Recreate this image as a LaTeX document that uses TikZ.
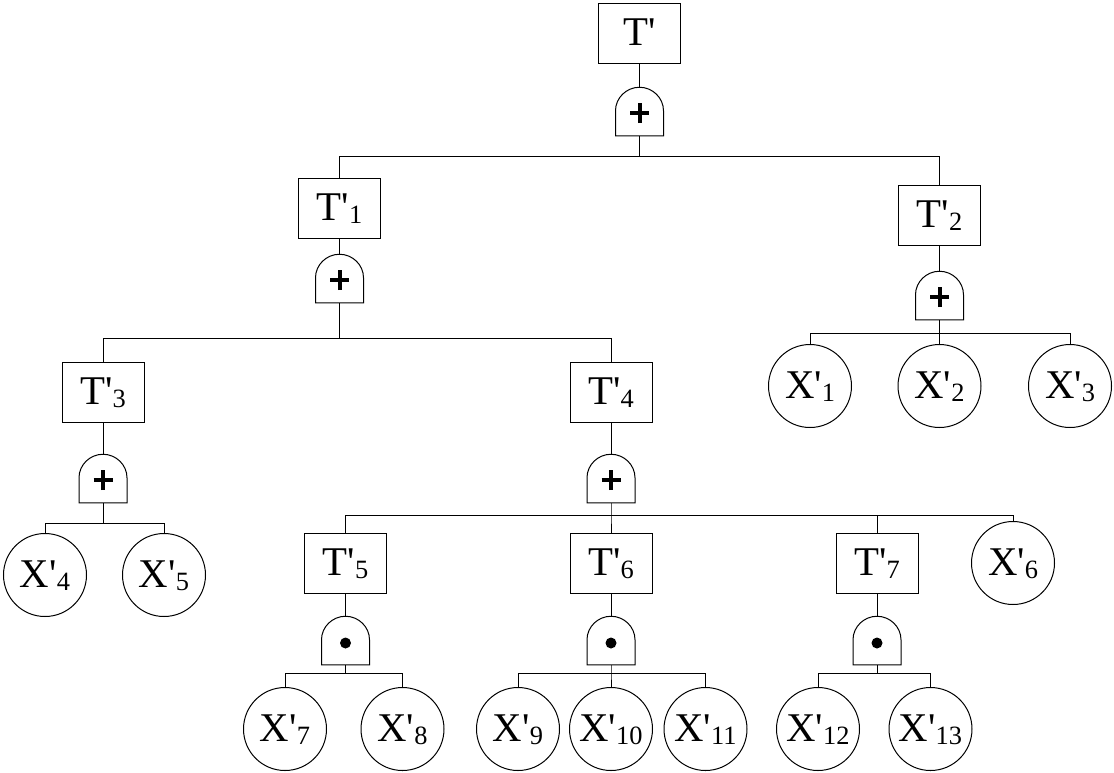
\documentclass[tikz,border=0pt]{standalone}
\usepackage{fontspec}
\setmainfont{Liberation Serif}[Ligatures=TeXOff]
\newcommand\idx[1]{\raisebox{-1.5pt}{\fontsize{13.2}{14}\selectfont #1}}
\tikzset{
  event/.style={draw, minimum width=41pt, minimum height=30pt, inner sep=0pt,
    text height=13.5pt, text depth=1.5pt, font=\fontsize{20.4}{24}\selectfont},
  basic/.style={draw, circle, minimum size=41.5pt, inner sep=0pt,
    text height=13.5pt, text depth=1.5pt, font=\fontsize{20.4}{24}\selectfont},
  gate/.style={minimum width=23.5pt, minimum height=23.75pt, inner sep=0pt},
}
\begin{document}
\begin{tikzpicture}[x=0.5pt, y=-0.5pt, line width=.5pt]
\useasboundingbox (0,0) rectangle (1114,772);
% events
\node[event] (t) at (639.5,33) {T'};
\node[event] (t1) at (339.5,208) {T'\idx{1}};
\node[event] (t2) at (939.5,215) {T'\idx{2}};
\node[event] (t3) at (103,392) {T'\idx{3}};
\node[event] (t4) at (611,392) {T'\idx{4}};
\node[event] (t5) at (345.5,563.5) {T'\idx{5}};
\node[event] (t6) at (611,563.5) {T'\idx{6}};
\node[event] (t7) at (877,563.5) {T'\idx{7}};
% gates
\node[gate] (g0) at (639.5,111.5) {};
\node[gate] (g1) at (339.5,278.5) {};
\node[gate] (g2) at (939.5,295.5) {};
\node[gate] (g3) at (103,478.5) {};
\node[gate] (g4) at (611,478.5) {};
\node[gate] (g5) at (345.5,640.5) {};
\node[gate] (g6) at (611,640.5) {};
\node[gate] (g7) at (877,640.5) {};
% basic events
\node[basic] (x1) at (810,386) {X'\idx{1}};
\node[basic] (x2) at (939.5,386) {X'\idx{2}};
\node[basic] (x3) at (1070,386) {X'\idx{3}};
\node[basic] (x4) at (45,575) {X'\idx{4}};
\node[basic] (x5) at (164,575) {X'\idx{5}};
\node[basic] (x6) at (1013,563) {X'\idx{6}};
\node[basic] (x7) at (285,729) {X'\idx{7}};
\node[basic] (x8) at (402.5,729) {X'\idx{8}};
\node[basic] (x9) at (518,729) {X'\idx{9}};
\node[basic] (x10) at (611,729) {X'\idx{10}};
\node[basic] (x11) at (705.5,729) {X'\idx{11}};
\node[basic] (x12) at (818,729) {X'\idx{12}};
\node[basic] (x13) at (930.5,729) {X'\idx{13}};
% gate outlines and symbols
\foreach \g in {g0,g1,g2,g3,g4,g5,g6,g7}
  \draw (\g.south west) -- ([yshift=-11.75pt]\g.north west)
    .. controls +(0,6.49pt) and +(-6.49pt,0) .. (\g.north)
    .. controls +(6.49pt,0) and +(0,6.49pt) .. ([yshift=-11.75pt]\g.north east)
    -- (\g.south east) -- cycle;
\foreach \g in {g0,g1,g2,g3,g4}
  \draw[line width=2pt] ([yshift=-.75pt]\g.center) +(-4.75pt,0) -- +(4.75pt,0)
    +(0,-5pt) -- +(0,5pt);
\foreach \g in {g5,g6,g7}
  \fill ([yshift=-1.25pt]\g.center) circle[radius=2.75pt];
% bars
\coordinate (b0) at (639.5,156);
\coordinate (b1) at (339.5,338);
\coordinate (b2) at (939.5,333);
\coordinate (b3) at (103,523);
\coordinate (b4) at (611,515);
\coordinate (b5) at (345.5,673);
\coordinate (b6) at (611,673);
\coordinate (b7) at (877,673);
% connectors
\draw (t) -- (g0);
\draw (g0) -- (b0) -| (t1);
\draw (b0) -| (t2);
\draw (t1) -- (g1);
\draw (g1) -- (b1) -| (t3);
\draw (b1) -| (t4);
\draw (t2) -- (g2);
\draw (g2) -- (b2) -- (x2);
\draw (b2) -| (x1);
\draw (b2) -| (x3);
\draw (t3) -- (g3);
\draw (g3) -- (b3) -| (x4);
\draw (b3) -| (x5);
\draw (t4) -- (g4);
\draw (g4) -- (b4) -- (t6);
\draw (b4) -| (t5);
\draw (b4) -| (t7);
\draw (b4) -| (x6);
\draw (t5) -- (g5);
\draw (g5) -- (b5) -| (x7);
\draw (b5) -| (x8);
\draw (t6) -- (g6);
\draw (g6) -- (b6) -- (x10);
\draw (b6) -| (x9);
\draw (b6) -| (x11);
\draw (t7) -- (g7);
\draw (g7) -- (b7) -| (x12);
\draw (b7) -| (x13);
\end{tikzpicture}
\end{document}
